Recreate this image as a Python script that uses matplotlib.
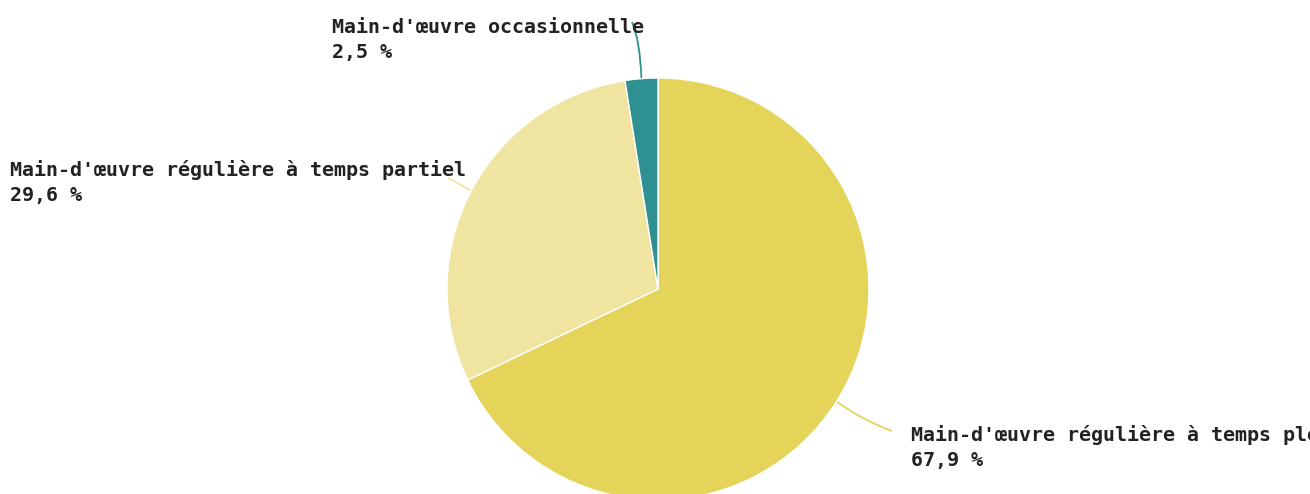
import numpy as np
import matplotlib
matplotlib.use("Agg")
import matplotlib.pyplot as plt
from matplotlib.path import Path
from matplotlib.patches import PathPatch

categories = ["Main-d'œuvre régulière à temps plein",
              "Main-d'œuvre régulière à temps partiel",
              "Main-d'œuvre occasionnelle"]
values = [67.9, 29.6, 2.5]
value_labels = ["67,9 %", "29,6 %", "2,5 %"]
colors = ["#E4D45A", "#EFE5A0", "#2E9090"]

W, H = 1310, 494
fig = plt.figure(figsize=(W / 100, H / 100), dpi=100)
ax = fig.add_axes([0, 0, 1, 1])

cx, cy, R = 658, H - 289, 211
wedges, _ = ax.pie(values, colors=colors, startangle=90, counterclock=False,
                   center=(cx, cy), radius=R, frame=True,
                   wedgeprops=dict(edgecolor="white", linewidth=1.0))
ax.set_xlim(0, W)
ax.set_ylim(0, H)
ax.set_aspect("equal")
ax.axis("off")

font = dict(family="DejaVu Sans Mono", fontweight="bold", fontsize=14.45, color="#222222")

# label anchor (pixel coords, top-left origin): text x, first baseline, leader end, control
layout = [
    dict(tx=911, ty=441, end=(892, 431), ctrl=(862, 420)),
    dict(tx=10, ty=176, end=(448, 178), ctrl=(460, 184)),
    dict(tx=332, ty=33, end=(632, 22), ctrl=(640, 40)),
]

for w, cat, vl, col, lay in zip(wedges, categories, value_labels, colors, layout):
    mid = np.deg2rad((w.theta1 + w.theta2) / 2)
    sx, sy = cx + R * np.cos(mid), cy + R * np.sin(mid)
    ex, ey = lay["end"][0], H - lay["end"][1]
    kx, ky = lay["ctrl"][0], H - lay["ctrl"][1]
    path = Path([(sx, sy), (kx, ky), (ex, ey)], [Path.MOVETO, Path.CURVE3, Path.CURVE3])
    ax.add_patch(PathPatch(path, facecolor="none", edgecolor=col, linewidth=1.3, zorder=0))
    ax.text(lay["tx"], H - lay["ty"], cat, ha="left", va="baseline", **font)
    ax.text(lay["tx"], H - lay["ty"] - 25, vl, ha="left", va="baseline", **font)

fig.savefig("out.png", dpi=100)
